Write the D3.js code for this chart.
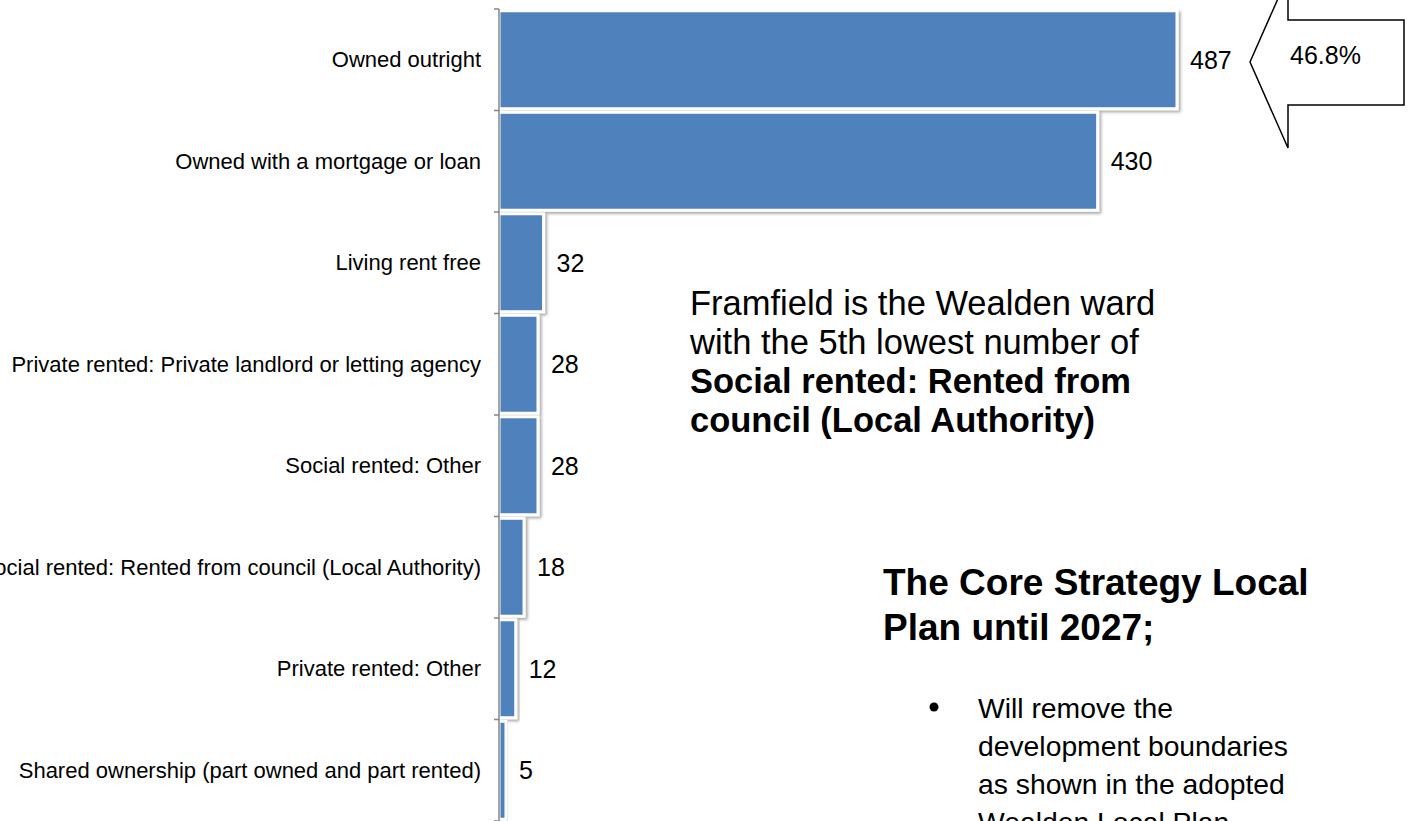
<!DOCTYPE html>
<html>
<head>
<meta charset="utf-8">
<script src="https://cdn.jsdelivr.net/npm/d3@7/dist/d3.min.js"></script>
<style>
  html, body { margin: 0; padding: 0; background: #ffffff; }
  svg { display: block; font-family: "Liberation Sans", Arial, sans-serif; }
</style>
</head>
<body>
<svg id="chart" width="1412" height="821"></svg>
<script>
const categories = [
  "Owned outright",
  "Owned with a mortgage or loan",
  "Living rent free",
  "Private rented: Private landlord or letting agency",
  "Social rented: Other",
  "Social rented: Rented from council (Local Authority)",
  "Private rented: Other",
  "Shared ownership (part owned and part rented)"
];
const values = [487, 430, 32, 28, 28, 18, 12, 5];
const calloutText = "46.8%";
const noteLines = [
  { text: "Framfield is the Wealden ward", bold: false },
  { text: "with the 5th lowest number of", bold: false },
  { text: "Social rented: Rented from", bold: true },
  { text: "council (Local Authority)", bold: true }
];
const headingLines = ["The Core Strategy Local", "Plan until 2027;"];
const bulletLines = ["Will remove the", "development boundaries", "as shown in the adopted", "Wealden Local Plan"];

const svg = d3.select("#chart");
const defs = svg.append("defs");
const f = defs.append("filter").attr("id", "shadow").attr("x", "-10%").attr("y", "-10%").attr("width", "130%").attr("height", "130%");
f.append("feDropShadow").attr("dx", 2).attr("dy", 2).attr("stdDeviation", 1.5)
  .attr("flood-color", "#000").attr("flood-opacity", 0.35);

const axisX = 499;
const x = d3.scaleLinear().domain([0, 500]).range([axisX, axisX + 500 * 1.3922]);
const y = d3.scaleBand().domain(categories).range([9, 821]).paddingInner(0.035).paddingOuter(0.0175);

// bars
svg.append("g").selectAll("rect").data(values).join("rect")
  .attr("x", x(0))
  .attr("y", (d, i) => y(categories[i]))
  .attr("width", d => x(d) - x(0))
  .attr("height", y.bandwidth())
  .attr("fill", "#4f81bd")
  .attr("stroke", "#ffffff")
  .attr("stroke-width", 3)
  .attr("filter", "url(#shadow)");

// axis
const yAxis = d3.axisLeft(y).tickSize(0).tickFormat("");
const ag = svg.append("g").attr("transform", `translate(${axisX},0)`).call(yAxis);
ag.select(".domain").remove();
ag.append("line").attr("x1", 0).attr("x2", 0).attr("y1", 9).attr("y2", 821)
  .attr("stroke", "#868686").attr("stroke-width", 1.5);
const step = y.step();
const bounds = d3.range(categories.length + 1).map(i => 9 + i * step);
ag.selectAll("line.tk").data(bounds).join("line").attr("class", "tk")
  .attr("x1", -5).attr("x2", 0).attr("y1", d => d).attr("y2", d => d)
  .attr("stroke", "#868686").attr("stroke-width", 1.5);

// category labels
svg.append("g").selectAll("text").data(categories).join("text")
  .attr("x", 481)
  .attr("y", d => y(d) + y.bandwidth() / 2)
  .attr("dy", "0.35em")
  .attr("text-anchor", "end")
  .attr("font-size", 22)
  .attr("fill", "#000")
  .text(d => d);

// value labels
svg.append("g").selectAll("text").data(values).join("text")
  .attr("x", d => x(d) + 13)
  .attr("y", (d, i) => y(categories[i]) + y.bandwidth() / 2)
  .attr("dy", "0.35em")
  .attr("font-size", 25)
  .attr("fill", "#000")
  .text(d => d);

// callout arrow
const arrowPts = [[1250, 62], [1288, -24], [1288, 20], [1404, 20], [1404, 105], [1288, 105], [1288, 148]];
svg.append("path")
  .attr("d", d3.line()(arrowPts) + "Z")
  .attr("fill", "#fff").attr("stroke", "#000").attr("stroke-width", 1.5);
svg.append("text").attr("x", 1290).attr("y", 64)
  .attr("font-size", 25).text(calloutText);

// note paragraph
svg.append("g").selectAll("text").data(noteLines).join("text")
  .attr("x", 690)
  .attr("y", (d, i) => 315 + i * 39)
  .attr("font-size", 34.5)
  .attr("font-weight", d => d.bold ? "bold" : "normal")
  .text(d => d.text);

// heading
svg.append("g").selectAll("text").data(headingLines).join("text")
  .attr("x", 883)
  .attr("y", (d, i) => 595 + i * 45)
  .attr("font-size", 37)
  .attr("font-weight", "bold")
  .text(d => d);

// bullet
svg.append("circle").attr("cx", 934).attr("cy", 707).attr("r", 4.5).attr("fill", "#000");
svg.append("g").selectAll("text").data(bulletLines).join("text")
  .attr("x", 978)
  .attr("y", (d, i) => 718 + i * 38)
  .attr("font-size", 28.3)
  .text(d => d);
</script>
</body>
</html>
